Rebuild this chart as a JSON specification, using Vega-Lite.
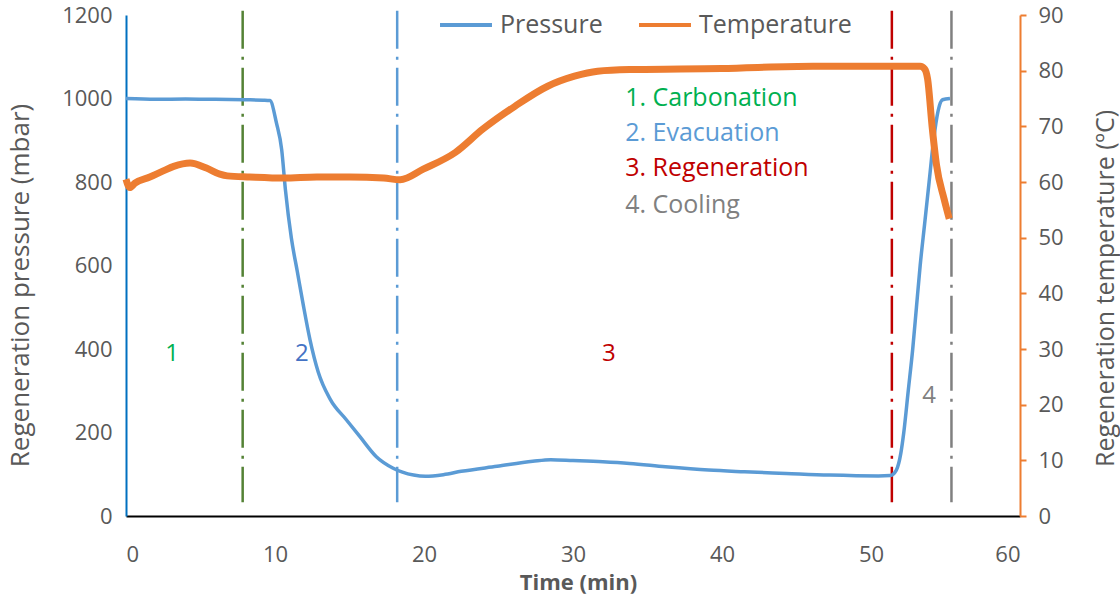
{
  "$schema": "https://vega.github.io/schema/vega-lite/v6.json",
  "width": 894,
  "height": 501,
  "autosize": "none",
  "padding": {"left": 126, "top": 15, "right": 100, "bottom": 85},
  "background": "white",
  "config": {
    "view": {"stroke": null},
    "font": "Open Sans",
    "axis": {"labelFont": "Open Sans", "titleFont": "Open Sans", "labelColor": "#595959", "titleColor": "#595959", "labelFontSize": 22, "titleFontSize": 25, "grid": false, "format": "d"}
  },
  "datasets": {
    "pressure": [
      {"t": 0, "p": 1000}, {"t": 2, "p": 998}, {"t": 4, "p": 999}, {"t": 6, "p": 998}, {"t": 8, "p": 997},
      {"t": 9.2, "p": 996}, {"t": 9.66, "p": 995}, {"t": 10.1, "p": 941}, {"t": 10.45, "p": 877},
      {"t": 10.7, "p": 781}, {"t": 11.1, "p": 665}, {"t": 11.5, "p": 585}, {"t": 11.9, "p": 505},
      {"t": 12.35, "p": 422}, {"t": 12.9, "p": 345}, {"t": 13.7, "p": 280}, {"t": 14.8, "p": 230},
      {"t": 15.7, "p": 190}, {"t": 16.8, "p": 142}, {"t": 17.9, "p": 115}, {"t": 19.3, "p": 98},
      {"t": 20.1, "p": 95}, {"t": 21.3, "p": 99}, {"t": 22.5, "p": 107}, {"t": 24.9, "p": 119},
      {"t": 27.3, "p": 131}, {"t": 28.5, "p": 135}, {"t": 30, "p": 133}, {"t": 32, "p": 130},
      {"t": 33.8, "p": 126}, {"t": 36.2, "p": 118}, {"t": 39.1, "p": 110}, {"t": 41.5, "p": 106},
      {"t": 44.3, "p": 102}, {"t": 47.2, "p": 98}, {"t": 50.5, "p": 96}, {"t": 51.3, "p": 97},
      {"t": 51.7, "p": 110}, {"t": 52.0, "p": 150}, {"t": 52.2, "p": 200}, {"t": 52.5, "p": 300},
      {"t": 52.8, "p": 400}, {"t": 53.05, "p": 500}, {"t": 53.3, "p": 600}, {"t": 53.6, "p": 700},
      {"t": 53.9, "p": 800}, {"t": 54.2, "p": 900}, {"t": 54.5, "p": 970}, {"t": 54.8, "p": 997},
      {"t": 55.3, "p": 1000}
    ],
    "temperature": [
      {"t": 0, "T": 60.5}, {"t": 0.25, "T": 59}, {"t": 0.6, "T": 59.8}, {"t": 1.6, "T": 60.9},
      {"t": 2.5, "T": 62}, {"t": 3.2, "T": 62.8}, {"t": 4.3, "T": 63.4}, {"t": 5.4, "T": 62.5},
      {"t": 6.3, "T": 61.4}, {"t": 6.8, "T": 61.1}, {"t": 8.3, "T": 60.9}, {"t": 10.6, "T": 60.7},
      {"t": 12.8, "T": 60.9}, {"t": 15, "T": 60.9}, {"t": 17.3, "T": 60.7}, {"t": 18.4, "T": 60.4},
      {"t": 19.95, "T": 62.3}, {"t": 22.1, "T": 65.3}, {"t": 23.95, "T": 69.5}, {"t": 26.1, "T": 73.6},
      {"t": 28.3, "T": 77.2}, {"t": 30.1, "T": 79}, {"t": 31.65, "T": 79.9}, {"t": 33.8, "T": 80.2},
      {"t": 39.95, "T": 80.4}, {"t": 46.1, "T": 80.8}, {"t": 53.3, "T": 80.8}, {"t": 53.6, "T": 80.3},
      {"t": 53.8, "T": 78.5}, {"t": 54.1, "T": 70}, {"t": 54.4, "T": 63}, {"t": 54.9, "T": 57},
      {"t": 55.25, "T": 53.4}
    ],
    "phases": [
      {"t": 7.83, "stage": "1", "top": 1210, "bottom": 33},
      {"t": 18.2, "stage": "2", "top": 1210, "bottom": 33},
      {"t": 51.4, "stage": "3", "top": 1210, "bottom": 33},
      {"t": 55.4, "stage": "4", "top": 1210, "bottom": 33}
    ],
    "stageNames": [
      {"t": 33.5, "p": 1001, "label": "1. Carbonation", "stage": "1"},
      {"t": 33.5, "p": 917, "label": "2. Evacuation", "stage": "2"},
      {"t": 33.5, "p": 833, "label": "3. Regeneration", "stage": "3"},
      {"t": 33.5, "p": 745, "label": "4. Cooling", "stage": "4"}
    ],
    "stageNums": [
      {"t": 3.1, "p": 388, "label": "1", "stage": "1"},
      {"t": 11.8, "p": 388, "label": "2", "stage": "2n"},
      {"t": 32.4, "p": 388, "label": "3", "stage": "3"},
      {"t": 53.9, "p": 287, "label": "4", "stage": "4"}
    ]
  },
  "layer": [
    {
      "layer": [
        {
          "data": {"name": "phases"},
          "mark": {"type": "rule", "strokeWidth": 2.5, "strokeDash": [38, 8, 3, 8]},
          "encoding": {
            "x": {"field": "t", "type": "quantitative", "scale": {"domain": [0, 60]}},
            "y": {"field": "top", "type": "quantitative", "scale": {"domain": [0, 1200]}},
            "y2": {"field": "bottom"},
            "stroke": {"field": "stage", "type": "nominal", "legend": null,
              "scale": {"domain": ["1", "2", "3", "4"], "range": ["#548235", "#5B9BD5", "#C00000", "#808080"]}}
          }
        },
        {
          "data": {"name": "pressure"},
          "mark": {"type": "line", "strokeWidth": 3.5, "interpolate": "monotone"},
          "encoding": {
            "x": {"field": "t", "type": "quantitative", "scale": {"domain": [0, 60]},
              "axis": {"title": "Time (min)", "values": [0, 10, 20, 30, 40, 50, 60], "ticks": false, "domainColor": "#000000", "domainWidth": 2, "labelPadding": 28, "titleX": 452, "titleY": 66, "titleBaseline": "middle", "titleAlign": "center", "titleFontWeight": "bold", "titleFontSize": 22}},
            "y": {"field": "p", "type": "quantitative", "scale": {"domain": [0, 1200]},
              "axis": {"title": "Regeneration pressure (mbar)", "values": [0, 200, 400, 600, 800, 1000, 1200], "ticks": false, "domainColor": "#0070C0", "domainWidth": 2, "labelPadding": 14, "titleX": -106, "titleY": 270, "titleAngle": 270, "titleBaseline": "middle", "titleAlign": "center", "titleFontWeight": "normal", "titleFontSize": 26}},
            "color": {"datum": "Pressure", "type": "nominal",
              "scale": {"domain": ["Pressure", "Temperature"], "range": ["#5B9BD5", "#ED7D31"]},
              "legend": {"title": null, "orient": "none", "legendX": 312, "legendY": -18, "direction": "horizontal", "symbolType": "stroke", "symbolSize": 2700, "symbolStrokeWidth": 4, "labelFontSize": 25, "labelFont": "Open Sans", "labelColor": "#595959", "columnPadding": 28, "labelOffset": 6}}
          }
        },
        {
          "data": {"name": "stageNames"},
          "mark": {"type": "text", "align": "left", "baseline": "middle", "fontSize": 25, "font": "Open Sans"},
          "encoding": {
            "x": {"field": "t", "type": "quantitative"},
            "y": {"field": "p", "type": "quantitative"},
            "text": {"field": "label"},
            "fill": {"field": "stage", "type": "nominal", "legend": null,
              "scale": {"domain": ["1", "2", "3", "4", "2n"], "range": ["#00B050", "#5B9BD5", "#C00000", "#808080", "#4472C4"]}}
          }
        },
        {
          "data": {"name": "stageNums"},
          "mark": {"type": "text", "align": "center", "baseline": "middle", "fontSize": 24, "font": "Open Sans"},
          "encoding": {
            "x": {"field": "t", "type": "quantitative"},
            "y": {"field": "p", "type": "quantitative"},
            "text": {"field": "label"},
            "fill": {"field": "stage", "type": "nominal", "legend": null}
          }
        }
      ]
    },
    {
      "data": {"name": "temperature"},
      "mark": {"type": "line", "strokeWidth": 7, "interpolate": "monotone"},
      "encoding": {
        "x": {"field": "t", "type": "quantitative", "scale": {"domain": [0, 60]}},
        "y": {"field": "T", "type": "quantitative", "scale": {"domain": [0, 90]},
          "axis": {"orient": "right", "title": "Regeneration temperature (ºC)", "values": [0, 10, 20, 30, 40, 50, 60, 70, 80, 90], "domainColor": "#ED7D31", "domainWidth": 2, "tickColor": "#ED7D31", "tickWidth": 2, "tickSize": 6, "labelPadding": 12, "titleX": 85, "titleY": 273, "titleAngle": 270, "titleBaseline": "middle", "titleAlign": "center", "titleFontWeight": "normal", "titleFontSize": 25}},
        "color": {"datum": "Temperature", "type": "nominal"}
      }
    }
  ],
  "resolve": {"scale": {"y": "independent"}}
}
